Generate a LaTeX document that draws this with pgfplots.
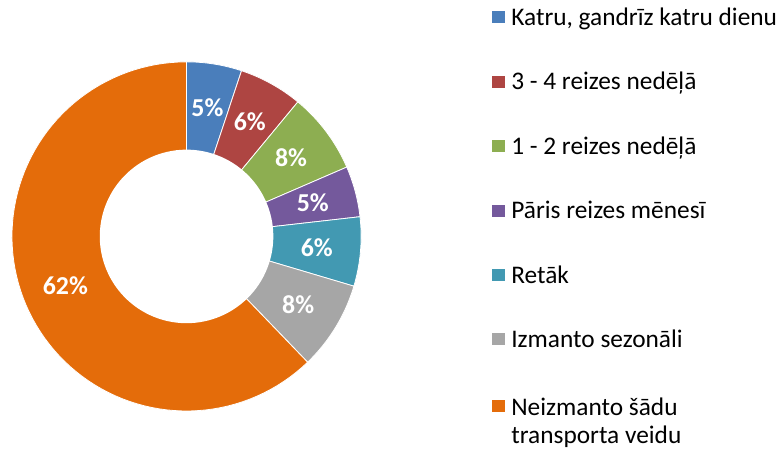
\documentclass[border=0pt]{standalone}
\usepackage{fontspec}
\setmainfont{Carlito}
\usepackage{pgfplots}
\usepackage{pgfplotstable}
\pgfplotsset{compat=1.18}
\definecolor{c0}{HTML}{4A7EBB}
\definecolor{c1}{HTML}{AE4542}
\definecolor{c2}{HTML}{8DAE51}
\definecolor{c3}{HTML}{74599C}
\definecolor{c4}{HTML}{4299B2}
\definecolor{c5}{HTML}{A6A6A6}
\definecolor{c6}{HTML}{E46C0A}
\pgfplotstableread{
value label
5.1 5
5.9 6
7.5 8
4.7 5
6.4 6
8.2 8
62.2 62
}\data
\begin{document}
\begin{tikzpicture}[lab/.style={text=white, font=\fontsize{26}{30}\bfseries\selectfont}]
\begin{axis}[hide axis, scale only axis, width=782bp, height=453bp,
  xmin=0, xmax=782, ymin=0, ymax=453, clip=false,
  legend cell align=left,
  legend style={draw=none, fill=none, at={(axis description cs:0.6266,0.992)}, anchor=north west,
    row sep=41.5bp, font=\fontsize{25.5}{30}\selectfont},
  legend image code/.code={\fill[#1,draw=none] (-6bp,-6bp) rectangle (7bp,6bp); \path (7bp,0) -- (11bp,0);},
  legend entries={{Katru, gandrīz katru dienu}, {3 - 4 reizes nedēļā}, {1 - 2 reizes nedēļā},
    {Pāris reizes mēnesī}, {Retāk}, {Izmanto sezonāli},
    {\begin{tabular}[t]{@{}l@{}}Neizmanto šādu\\[-2pt]transporta veidu\end{tabular}}},
]
\path (rel axis cs:0,0) rectangle (rel axis cs:1,1);
\pgfplotstablegetrowsof{\data}
\pgfmathtruncatemacro\N{\pgfplotsretval-1}
\gdef\cum{0}
\pgfplotsforeachungrouped \i in {0,...,\N}{%
  \pgfplotstablegetelem{\i}{value}\of{\data}\let\v\pgfplotsretval
  \pgfplotstablegetelem{\i}{label}\of{\data}\let\lab\pgfplotsretval
  \pgfmathsetmacro\a{90-3.6*\cum}
  \pgfmathsetmacro\b{90-3.6*(\cum+\v)}
  \pgfmathsetmacro\m{(\a+\b)/2}
  \pgfmathsetmacro\lx{187+131*cos(\m)}
  \pgfmathsetmacro\ly{216+131*sin(\m)}
  \edef\temp{\noexpand\addplot[fill=c\i, draw=white, line width=0.8pt, domain=\b:\a, samples=90]
     ({187+175*cos(x)},{216+175*sin(x)}) -- (axis cs:187,216) -- cycle;
   \noexpand\node[lab] at (axis cs:\lx,\ly) {\lab\noexpand\%};}
  \temp
  \pgfmathsetmacro\newcum{\cum+\v}
  \global\let\cum\newcum
}
\addplot[forget plot, fill=white, draw=none, domain=0:360, samples=120]
  ({187+87*cos(x)},{216+87*sin(x)}) -- cycle;
\end{axis}
\end{tikzpicture}
\end{document}
